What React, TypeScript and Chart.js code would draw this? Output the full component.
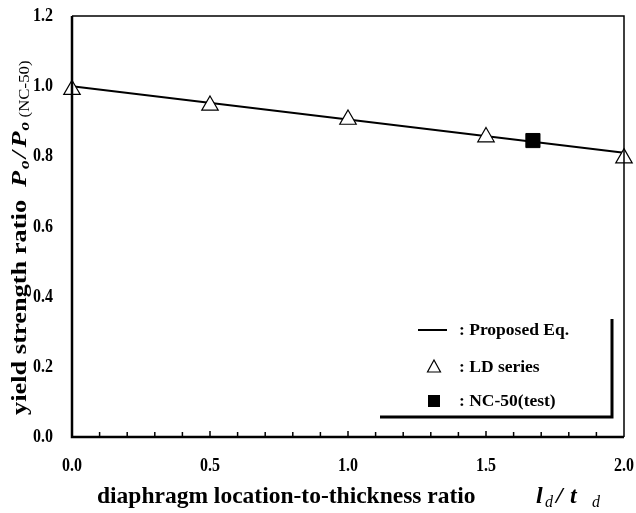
import React, { useEffect, useRef } from "react";
import { Chart, registerables } from "chart.js";

Chart.register(...registerables);

// ---- data ----
const eqX = [0, 2.0];
const eqY = [1.0, 0.81];
const ldX = [0, 0.5, 1.0, 1.5, 2.0];
const ldY = [0.99, 0.945, 0.905, 0.855, 0.795];
const testX = [1.67];
const testY = [0.845];
const xTicks = [0, 0.5, 1.0, 1.5, 2.0];
const yTicks = [0, 0.2, 0.4, 0.6, 0.8, 1.0, 1.2];
const legendLabels = [": Proposed Eq.", ": LD series", ": NC-50(test)"];
const yTitle = "yield strength ratio";
const xTitle = "diaphragm location-to-thickness ratio";

const SERIF = '"Liberation Serif", "Times New Roman", serif';

type Part = { t: string; f: string; dx: number; dy?: number };
function drawParts(ctx: CanvasRenderingContext2D, parts: Part[], x: number, y: number) {
  for (const p of parts) {
    ctx.font = p.f;
    ctx.fillText(p.t, x + p.dx, y + (p.dy || 0));
  }
}

function stretchedText(ctx: CanvasRenderingContext2D, text: string, x: number, y: number, sy: number) {
  ctx.save();
  ctx.translate(x, y);
  ctx.scale(1, sy);
  ctx.fillText(text, 0, 0);
  ctx.restore();
}

const decor = {
  id: "decor",
  afterDraw(chart: any) {
    const ctx: CanvasRenderingContext2D = chart.ctx;
    const { left, right, top, bottom } = chart.chartArea;
    const xs = chart.scales.x;
    const ys = chart.scales.y;
    ctx.save();
    ctx.strokeStyle = "#000";
    ctx.fillStyle = "#000";
    // frame
    ctx.lineWidth = 1.5;
    ctx.beginPath();
    ctx.moveTo(left, top);
    ctx.lineTo(right, top);
    ctx.lineTo(right, bottom);
    ctx.stroke();
    ctx.lineWidth = 2.5;
    ctx.beginPath();
    ctx.moveTo(left, top);
    ctx.lineTo(left, bottom);
    ctx.lineTo(right, bottom);
    ctx.stroke();
    // minor inward ticks on x axis
    ctx.lineWidth = 1.5;
    for (let i = 1; i < 20; i++) {
      const px = xs.getPixelForValue(i * 0.1);
      ctx.beginPath();
      ctx.moveTo(px, bottom);
      ctx.lineTo(px, bottom - (i % 5 === 0 ? 6 : 5));
      ctx.stroke();
    }
    // tick labels
    ctx.font = `bold 16px ${SERIF}`;
    ctx.textBaseline = "middle";
    ctx.textAlign = "right";
    for (const v of yTicks) {
      stretchedText(ctx, v.toFixed(1), 53, ys.getPixelForValue(v), 1.22);
    }
    ctx.textAlign = "center";
    for (const v of xTicks) {
      stretchedText(ctx, v.toFixed(1), xs.getPixelForValue(v), 466, 1.22);
    }
    // legend shadow
    ctx.lineWidth = 3;
    ctx.beginPath();
    ctx.moveTo(380, 417);
    ctx.lineTo(612, 417);
    ctx.lineTo(612, 319);
    ctx.stroke();
    // legend items
    ctx.lineWidth = 2;
    ctx.beginPath();
    ctx.moveTo(418, 330);
    ctx.lineTo(447, 330);
    ctx.stroke();
    ctx.lineWidth = 1.2;
    ctx.beginPath();
    ctx.moveTo(434, 360);
    ctx.lineTo(440.5, 372);
    ctx.lineTo(427.5, 372);
    ctx.closePath();
    ctx.fillStyle = "#fff";
    ctx.fill();
    ctx.stroke();
    ctx.fillStyle = "#000";
    ctx.fillRect(428, 395, 12, 12);
    ctx.textAlign = "left";
    ctx.font = `bold 17.5px ${SERIF}`;
    ctx.fillText(legendLabels[0], 459, 330);
    ctx.fillText(legendLabels[1], 459, 367);
    ctx.fillText(legendLabels[2], 459, 401);

    // x title
    ctx.textBaseline = "alphabetic";
    drawParts(ctx, [{ t: xTitle, f: `bold 23.5px ${SERIF}`, dx: 0 }], 97, 503);
    drawParts(
      ctx,
      [
        { t: "l", f: `italic bold 24px ${SERIF}`, dx: 0 },
        { t: "d", f: `italic 16px ${SERIF}`, dx: 9, dy: 4 },
        { t: "/", f: `italic bold 24px ${SERIF}`, dx: 20 },
        { t: "t", f: `italic bold 24px ${SERIF}`, dx: 34 },
        { t: "d", f: `italic 16px ${SERIF}`, dx: 56, dy: 4 },
      ],
      536,
      503
    );

    // y title (stretched along its length)
    ctx.translate(26, 415);
    ctx.rotate(-Math.PI / 2);
    ctx.scale(1.2, 1);
    drawParts(ctx, [{ t: yTitle, f: `bold 22px ${SERIF}`, dx: 0 }], 0, 0);
    drawParts(
      ctx,
      [
        { t: "P", f: `italic bold 22px ${SERIF}`, dx: 190 },
        { t: "o", f: `italic bold 14.5px ${SERIF}`, dx: 205, dy: 3 },
        { t: "/", f: `italic bold 22px ${SERIF}`, dx: 214 },
        { t: "P", f: `italic bold 22px ${SERIF}`, dx: 223 },
        { t: "o", f: `italic bold 14.5px ${SERIF}`, dx: 237, dy: 3 },
        { t: "(NC-50)", f: `14px ${SERIF}`, dx: 248, dy: 3 },
      ],
      0,
      0
    );
    ctx.restore();
  },
};

export default function App() {
  const ref = useRef<HTMLCanvasElement | null>(null);
  useEffect(() => {
    document.body.style.margin = "0";
    const canvas = ref.current!;
    const chart = new Chart(canvas, {
      type: "scatter",
      data: {
        datasets: [
          {
            label: "Proposed Eq.",
            data: eqX.map((x, i) => ({ x, y: eqY[i] })),
            showLine: true,
            borderColor: "#000",
            borderWidth: 2,
            pointRadius: 0,
            clip: false,
            order: 3,
          },
          {
            label: "LD series",
            data: ldX.map((x, i) => ({ x, y: ldY[i] })),
            pointStyle: "triangle",
            pointRadius: 9.5,
            backgroundColor: "#fff",
            borderColor: "#000",
            borderWidth: 1.2,
            clip: false,
            order: 1,
          },
          {
            label: "NC-50(test)",
            data: testX.map((x, i) => ({ x, y: testY[i] })),
            pointStyle: "rect",
            pointRadius: 10,
            backgroundColor: "#000",
            borderColor: "#000",
            borderWidth: 1,
            clip: false,
            order: 2,
          },
        ],
      },
      options: {
        animation: false,
        responsive: false,
        layout: { padding: { left: 0, right: 12, top: 16, bottom: 0 } },
        plugins: { legend: { display: false }, tooltip: { enabled: false } },
        scales: {
          x: {
            type: "linear",
            min: 0,
            max: 2,
            afterFit: (s: any) => {
              s.height = 76;
            },
            grid: { display: false, drawTicks: false },
            border: { display: false },
            ticks: { display: false },
          },
          y: {
            type: "linear",
            min: 0,
            max: 1.2,
            afterFit: (s: any) => {
              s.width = 72;
            },
            grid: { display: false, drawTicks: false },
            border: { display: false },
            ticks: { display: false },
          },
        },
      },
      plugins: [decor],
    });
    return () => chart.destroy();
  }, []);
  return (
    <div style={{ position: "absolute", left: 0, top: 0, width: 636, height: 513, background: "#fff" }}>
      <canvas ref={ref} width={636} height={513} style={{ width: 636, height: 513 }} />
    </div>
  );
}
